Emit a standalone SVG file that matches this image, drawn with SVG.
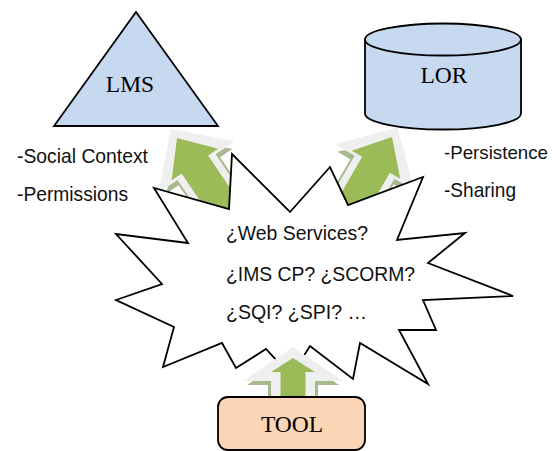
<svg xmlns="http://www.w3.org/2000/svg" width="556" height="451" viewBox="0 0 556 451">
<style>
.shape{stroke:#000;stroke-width:1.8;stroke-linejoin:miter}
.blue{fill:#c6d9f1}
.serif{font-family:"Liberation Serif","Times New Roman",serif;font-size:23.5px;fill:#000}
.sans{font-family:"Liberation Sans",Arial,sans-serif;font-size:21px;fill:#111}
.glow{fill:#efefef}
.shadow{fill:#a9b98e}
.green{fill:#9bbb59}
</style>
<defs>
<g id="bigArrow">
<path class="shadow" d="M0,4 L40,40 L25,40 L25,95 L-25,95 L-25,40 L-40,40 Z"/>
<path class="glow" d="M0,-11 L46,35 L23,35 L23,95 L-23,95 L-23,35 L-46,35 Z"/>
<path class="green" d="M0,0 L28,32 L16,32 L16,95 L-16,95 L-16,32 L-28,32 Z"/>
</g>
</defs>
<g id="connectors">
<g id="arrow-lms" transform="translate(177,138) rotate(-34)"><use href="#bigArrow"/></g>
<g id="arrow-lor" transform="translate(392,137) rotate(30)"><use href="#bigArrow"/></g>
</g>
<g id="lms">
<polygon class="shape blue" points="136,12 54,126 218,126"/>
<text class="serif" x="130" y="92" text-anchor="middle">LMS</text>
</g>
<g id="lor">
<path class="shape blue" d="M365,39.5 L365,113.5 A78,16 0 0 0 521,113.5 L521,39.5 Z"/>
<ellipse class="shape blue" cx="443" cy="39.5" rx="78" ry="16"/>
<text class="serif" x="444" y="83" text-anchor="middle">LOR</text>
</g>
<g id="lms-notes">
<text class="sans" x="17" y="163" textLength="131" lengthAdjust="spacingAndGlyphs">-Social Context</text>
<text class="sans" x="17" y="201" textLength="111" lengthAdjust="spacingAndGlyphs">-Permissions</text>
</g>
<g id="lor-notes">
<text class="sans" x="444" y="159" style="font-size:19px" textLength="104" lengthAdjust="spacingAndGlyphs">-Persistence</text>
<text class="sans" x="444" y="196.5" textLength="72" lengthAdjust="spacingAndGlyphs">-Sharing</text>
</g>
<g id="interop">
<polygon class="shape" fill="#fff" points="232,154 290,212 330,167 348,205 423,177 397,240 465,233 428,263 513,296 423,300 436,330 399,330 428,384 360,343 353,379 310,346 291,376 266,349 236,368 222,343 163,367 174,327 116,300 162,284 116,234 188,243 154,188 229,209"/>
<text class="sans" x="226" y="240" textLength="142" lengthAdjust="spacingAndGlyphs">¿Web Services?</text>
<text class="sans" x="226" y="281" textLength="189" lengthAdjust="spacingAndGlyphs">¿IMS CP? ¿SCORM?</text>
<text class="sans" x="226" y="319" textLength="141" lengthAdjust="spacingAndGlyphs">¿SQI? ¿SPI? …</text>
</g>
<g id="arrow-tool" transform="translate(293,358)">
<path class="shadow" d="M0,-4 L46,27 L25,27 L25,45 L-25,45 L-25,27 L-46,27 Z"/>
<path class="glow" d="M0,-11 L50,23 L22,23 L22,45 L-22,45 L-22,23 L-50,23 Z"/>
<path class="green" d="M0,0 L22,14 L12.5,14 L12.5,45 L-12.5,45 L-12.5,14 L-22,14 Z"/>
</g>
<g id="tool">
<rect class="shape" fill="#fbd5b5" x="218" y="397" width="147" height="53" rx="10"/>
<text class="serif" x="292" y="432" text-anchor="middle">TOOL</text>
</g>
</svg>
